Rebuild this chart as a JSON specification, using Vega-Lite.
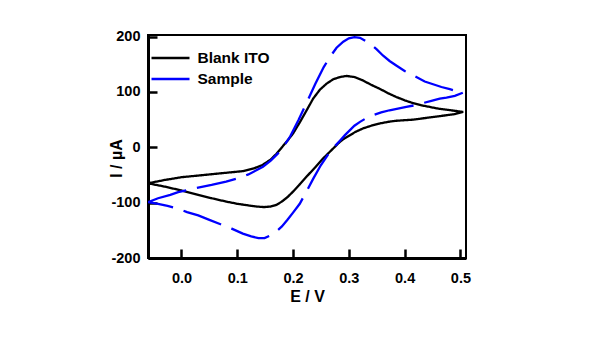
{
  "$schema": "https://vega.github.io/schema/vega-lite/v6.json",
  "width": 318,
  "height": 223,
  "autosize": "none",
  "padding": {"left": 148, "top": 35, "right": 136, "bottom": 80},
  "background": "white",
  "config": {"font": "Liberation Sans", "view": {"stroke": "black", "strokeWidth": 2}},
  "datasets": {
    "cv": [
      {"series": "Blank ITO", "i": 0, "E": -0.06, "I": -65},
      {"series": "Blank ITO", "i": 1, "E": -0.03, "I": -59},
      {"series": "Blank ITO", "i": 2, "E": 0.0, "I": -54},
      {"series": "Blank ITO", "i": 3, "E": 0.03, "I": -51},
      {"series": "Blank ITO", "i": 4, "E": 0.06, "I": -48},
      {"series": "Blank ITO", "i": 5, "E": 0.09, "I": -45},
      {"series": "Blank ITO", "i": 6, "E": 0.11, "I": -43},
      {"series": "Blank ITO", "i": 7, "E": 0.13, "I": -38},
      {"series": "Blank ITO", "i": 8, "E": 0.145, "I": -32},
      {"series": "Blank ITO", "i": 9, "E": 0.16, "I": -22},
      {"series": "Blank ITO", "i": 10, "E": 0.17, "I": -12},
      {"series": "Blank ITO", "i": 11, "E": 0.18, "I": 0},
      {"series": "Blank ITO", "i": 12, "E": 0.19, "I": 12},
      {"series": "Blank ITO", "i": 13, "E": 0.2, "I": 25},
      {"series": "Blank ITO", "i": 14, "E": 0.212, "I": 45},
      {"series": "Blank ITO", "i": 15, "E": 0.225, "I": 68},
      {"series": "Blank ITO", "i": 16, "E": 0.236, "I": 88},
      {"series": "Blank ITO", "i": 17, "E": 0.248, "I": 104},
      {"series": "Blank ITO", "i": 18, "E": 0.26, "I": 115},
      {"series": "Blank ITO", "i": 19, "E": 0.272, "I": 123},
      {"series": "Blank ITO", "i": 20, "E": 0.284, "I": 127},
      {"series": "Blank ITO", "i": 21, "E": 0.296, "I": 129},
      {"series": "Blank ITO", "i": 22, "E": 0.31, "I": 127},
      {"series": "Blank ITO", "i": 23, "E": 0.325, "I": 121},
      {"series": "Blank ITO", "i": 24, "E": 0.34, "I": 113},
      {"series": "Blank ITO", "i": 25, "E": 0.355, "I": 106},
      {"series": "Blank ITO", "i": 26, "E": 0.37, "I": 98},
      {"series": "Blank ITO", "i": 27, "E": 0.385, "I": 91},
      {"series": "Blank ITO", "i": 28, "E": 0.4, "I": 85},
      {"series": "Blank ITO", "i": 29, "E": 0.415, "I": 80},
      {"series": "Blank ITO", "i": 30, "E": 0.43, "I": 76},
      {"series": "Blank ITO", "i": 31, "E": 0.445, "I": 73},
      {"series": "Blank ITO", "i": 32, "E": 0.46, "I": 70},
      {"series": "Blank ITO", "i": 33, "E": 0.475, "I": 68},
      {"series": "Blank ITO", "i": 34, "E": 0.49, "I": 66},
      {"series": "Blank ITO", "i": 35, "E": 0.505, "I": 64},
      {"series": "Blank ITO", "i": 36, "E": 0.49, "I": 60},
      {"series": "Blank ITO", "i": 37, "E": 0.475, "I": 58},
      {"series": "Blank ITO", "i": 38, "E": 0.46, "I": 56},
      {"series": "Blank ITO", "i": 39, "E": 0.445, "I": 54},
      {"series": "Blank ITO", "i": 40, "E": 0.43, "I": 52},
      {"series": "Blank ITO", "i": 41, "E": 0.415, "I": 50},
      {"series": "Blank ITO", "i": 42, "E": 0.4, "I": 49},
      {"series": "Blank ITO", "i": 43, "E": 0.385, "I": 48},
      {"series": "Blank ITO", "i": 44, "E": 0.37, "I": 46},
      {"series": "Blank ITO", "i": 45, "E": 0.355, "I": 43},
      {"series": "Blank ITO", "i": 46, "E": 0.34, "I": 39},
      {"series": "Blank ITO", "i": 47, "E": 0.325, "I": 34},
      {"series": "Blank ITO", "i": 48, "E": 0.312, "I": 28},
      {"series": "Blank ITO", "i": 49, "E": 0.302, "I": 22},
      {"series": "Blank ITO", "i": 50, "E": 0.292, "I": 16},
      {"series": "Blank ITO", "i": 51, "E": 0.284, "I": 10},
      {"series": "Blank ITO", "i": 52, "E": 0.275, "I": 1},
      {"series": "Blank ITO", "i": 53, "E": 0.266, "I": -8},
      {"series": "Blank ITO", "i": 54, "E": 0.254, "I": -20},
      {"series": "Blank ITO", "i": 55, "E": 0.24, "I": -36},
      {"series": "Blank ITO", "i": 56, "E": 0.226, "I": -51},
      {"series": "Blank ITO", "i": 57, "E": 0.212, "I": -67},
      {"series": "Blank ITO", "i": 58, "E": 0.2, "I": -80},
      {"series": "Blank ITO", "i": 59, "E": 0.19, "I": -90},
      {"series": "Blank ITO", "i": 60, "E": 0.18, "I": -98},
      {"series": "Blank ITO", "i": 61, "E": 0.17, "I": -104},
      {"series": "Blank ITO", "i": 62, "E": 0.16, "I": -107},
      {"series": "Blank ITO", "i": 63, "E": 0.148, "I": -108},
      {"series": "Blank ITO", "i": 64, "E": 0.135, "I": -107},
      {"series": "Blank ITO", "i": 65, "E": 0.12, "I": -105},
      {"series": "Blank ITO", "i": 66, "E": 0.1, "I": -102},
      {"series": "Blank ITO", "i": 67, "E": 0.08, "I": -98},
      {"series": "Blank ITO", "i": 68, "E": 0.054, "I": -92},
      {"series": "Blank ITO", "i": 69, "E": 0.03, "I": -86},
      {"series": "Blank ITO", "i": 70, "E": 0.0, "I": -78},
      {"series": "Blank ITO", "i": 71, "E": -0.03, "I": -71},
      {"series": "Blank ITO", "i": 72, "E": -0.06, "I": -65},

      {"series": "Sample", "i": 0, "E": -0.06, "I": -99},
      {"series": "Sample", "i": 1, "E": -0.042, "I": -92},
      {"series": "Sample", "i": 2, "E": -0.02, "I": -86},
      {"series": "Sample", "i": 3, "E": -0.006, "I": -81},
      {"series": "Sample", "i": 4, "E": 0.02, "I": -75},
      {"series": "Sample", "i": 5, "E": 0.054, "I": -68},
      {"series": "Sample", "i": 6, "E": 0.08, "I": -62},
      {"series": "Sample", "i": 7, "E": 0.101, "I": -56},
      {"series": "Sample", "i": 8, "E": 0.12, "I": -49},
      {"series": "Sample", "i": 9, "E": 0.135, "I": -41},
      {"series": "Sample", "i": 10, "E": 0.146, "I": -35},
      {"series": "Sample", "i": 11, "E": 0.16, "I": -24},
      {"series": "Sample", "i": 12, "E": 0.173, "I": -11},
      {"series": "Sample", "i": 13, "E": 0.182, "I": 0},
      {"series": "Sample", "i": 14, "E": 0.195, "I": 20},
      {"series": "Sample", "i": 15, "E": 0.21, "I": 50},
      {"series": "Sample", "i": 16, "E": 0.225, "I": 82},
      {"series": "Sample", "i": 17, "E": 0.24, "I": 115},
      {"series": "Sample", "i": 18, "E": 0.255, "I": 145},
      {"series": "Sample", "i": 19, "E": 0.266, "I": 163},
      {"series": "Sample", "i": 20, "E": 0.278, "I": 180},
      {"series": "Sample", "i": 21, "E": 0.29, "I": 191},
      {"series": "Sample", "i": 22, "E": 0.3, "I": 197},
      {"series": "Sample", "i": 23, "E": 0.31, "I": 199},
      {"series": "Sample", "i": 24, "E": 0.32, "I": 198},
      {"series": "Sample", "i": 25, "E": 0.337, "I": 188},
      {"series": "Sample", "i": 26, "E": 0.35, "I": 177},
      {"series": "Sample", "i": 27, "E": 0.361, "I": 166},
      {"series": "Sample", "i": 28, "E": 0.373, "I": 156},
      {"series": "Sample", "i": 29, "E": 0.385, "I": 148},
      {"series": "Sample", "i": 30, "E": 0.4, "I": 138},
      {"series": "Sample", "i": 31, "E": 0.421, "I": 127},
      {"series": "Sample", "i": 32, "E": 0.436, "I": 119},
      {"series": "Sample", "i": 33, "E": 0.451, "I": 114},
      {"series": "Sample", "i": 34, "E": 0.466, "I": 109},
      {"series": "Sample", "i": 35, "E": 0.481, "I": 105},
      {"series": "Sample", "i": 36, "E": 0.495, "I": 101},
      {"series": "Sample", "i": 37, "E": 0.505, "I": 99},
      {"series": "Sample", "i": 38, "E": 0.49, "I": 93},
      {"series": "Sample", "i": 39, "E": 0.475, "I": 90},
      {"series": "Sample", "i": 40, "E": 0.463, "I": 88},
      {"series": "Sample", "i": 41, "E": 0.448, "I": 84},
      {"series": "Sample", "i": 42, "E": 0.433, "I": 80},
      {"series": "Sample", "i": 43, "E": 0.418, "I": 76},
      {"series": "Sample", "i": 44, "E": 0.403, "I": 73},
      {"series": "Sample", "i": 45, "E": 0.388, "I": 70},
      {"series": "Sample", "i": 46, "E": 0.373, "I": 67},
      {"series": "Sample", "i": 47, "E": 0.358, "I": 63},
      {"series": "Sample", "i": 48, "E": 0.343, "I": 58},
      {"series": "Sample", "i": 49, "E": 0.33, "I": 52},
      {"series": "Sample", "i": 50, "E": 0.32, "I": 46},
      {"series": "Sample", "i": 51, "E": 0.31, "I": 39},
      {"series": "Sample", "i": 52, "E": 0.302, "I": 31},
      {"series": "Sample", "i": 53, "E": 0.293, "I": 22},
      {"series": "Sample", "i": 54, "E": 0.284, "I": 12},
      {"series": "Sample", "i": 55, "E": 0.275, "I": 2},
      {"series": "Sample", "i": 56, "E": 0.266, "I": -8},
      {"series": "Sample", "i": 57, "E": 0.25, "I": -32},
      {"series": "Sample", "i": 58, "E": 0.236, "I": -57},
      {"series": "Sample", "i": 59, "E": 0.224, "I": -80},
      {"series": "Sample", "i": 60, "E": 0.212, "I": -102},
      {"series": "Sample", "i": 61, "E": 0.2, "I": -118},
      {"series": "Sample", "i": 62, "E": 0.19, "I": -131},
      {"series": "Sample", "i": 63, "E": 0.18, "I": -143},
      {"series": "Sample", "i": 64, "E": 0.17, "I": -152},
      {"series": "Sample", "i": 65, "E": 0.16, "I": -159},
      {"series": "Sample", "i": 66, "E": 0.149, "I": -164},
      {"series": "Sample", "i": 67, "E": 0.138, "I": -164},
      {"series": "Sample", "i": 68, "E": 0.125, "I": -161},
      {"series": "Sample", "i": 69, "E": 0.11, "I": -156},
      {"series": "Sample", "i": 70, "E": 0.09, "I": -147},
      {"series": "Sample", "i": 71, "E": 0.07, "I": -139},
      {"series": "Sample", "i": 72, "E": 0.05, "I": -131},
      {"series": "Sample", "i": 73, "E": 0.03, "I": -123},
      {"series": "Sample", "i": 74, "E": 0.01, "I": -117},
      {"series": "Sample", "i": 75, "E": -0.006, "I": -111},
      {"series": "Sample", "i": 76, "E": -0.025, "I": -106},
      {"series": "Sample", "i": 77, "E": -0.042, "I": -102},
      {"series": "Sample", "i": 78, "E": -0.06, "I": -99}
    ]
  },
  "layer": [
    {
      "mark": {"type": "rule", "stroke": "#a0a0a0", "strokeDash": [7, 4], "strokeWidth": 1.2},
      "encoding": {"y": {"datum": 0, "type": "quantitative"}}
    },
    {
      "data": {"name": "cv"},
      "mark": {"type": "line", "strokeWidth": 2.3, "clip": true},
      "encoding": {
        "x": {
          "field": "E", "type": "quantitative",
          "scale": {"domain": [-0.06, 0.51], "nice": false, "zero": false},
          "axis": {
            "title": "E / V", "values": [0, 0.1, 0.2, 0.3, 0.4, 0.5], "format": ".1f",
            "grid": false, "tickSize": -9, "tickWidth": 2.5, "tickColor": "black",
            "domainColor": "black", "domainWidth": 3,
            "labelFont": "Liberation Sans", "labelFontSize": 14.5, "labelFontWeight": "bold", "labelColor": "black", "labelPadding": 22,
            "titleFont": "Liberation Sans", "titleFontSize": 16, "titleFontWeight": "bold", "titleColor": "black", "titlePadding": 4
          }
        },
        "y": {
          "field": "I", "type": "quantitative",
          "scale": {"domain": [-200, 203], "nice": false, "zero": false},
          "axis": {
            "title": "I / µA", "values": [-200, -100, 0, 100, 200],
            "labelExpr": "toString(datum.value)",
            "grid": false, "tickSize": -9, "tickWidth": 2.5, "tickColor": "black",
            "domainColor": "black", "domainWidth": 3,
            "labelFont": "Liberation Sans", "labelFontSize": 14.5, "labelFontWeight": "bold", "labelColor": "black", "labelPadding": 17,
            "titleFont": "Liberation Sans", "titleFontSize": 16, "titleFontWeight": "bold", "titleColor": "black",
            "titleX": -32, "titleY": 123, "titleAngle": -90, "titleBaseline": "middle", "titleAlign": "center"
          }
        },
        "order": {"field": "i", "type": "quantitative"},
        "color": {
          "field": "series", "type": "nominal",
          "scale": {"domain": ["Blank ITO", "Sample"], "range": ["black", "#0000ff"]},
          "legend": {
            "title": null, "orient": "none", "legendX": 11.5, "legendY": 12,
            "symbolType": "M-2,0H2", "symbolSize": 361, "symbolStrokeWidth": 2.5,
            "labelFont": "Liberation Sans", "labelFontSize": 15.5, "labelFontWeight": "bold", "labelColor": "black",
            "labelOffset": 16, "rowPadding": 1
          }
        },
        "strokeDash": {
          "field": "series", "type": "nominal",
          "scale": {"domain": ["Blank ITO", "Sample"], "range": [[1, 0], [40, 11]]},
          "legend": {
            "title": null, "orient": "none", "legendX": 11.5, "legendY": 12,
            "symbolType": "M-2,0H2", "symbolSize": 361, "symbolStrokeWidth": 2.5,
            "labelFont": "Liberation Sans", "labelFontSize": 15.5, "labelFontWeight": "bold", "labelColor": "black",
            "labelOffset": 16, "rowPadding": 1
          }
        }
      }
    }
  ]
}
